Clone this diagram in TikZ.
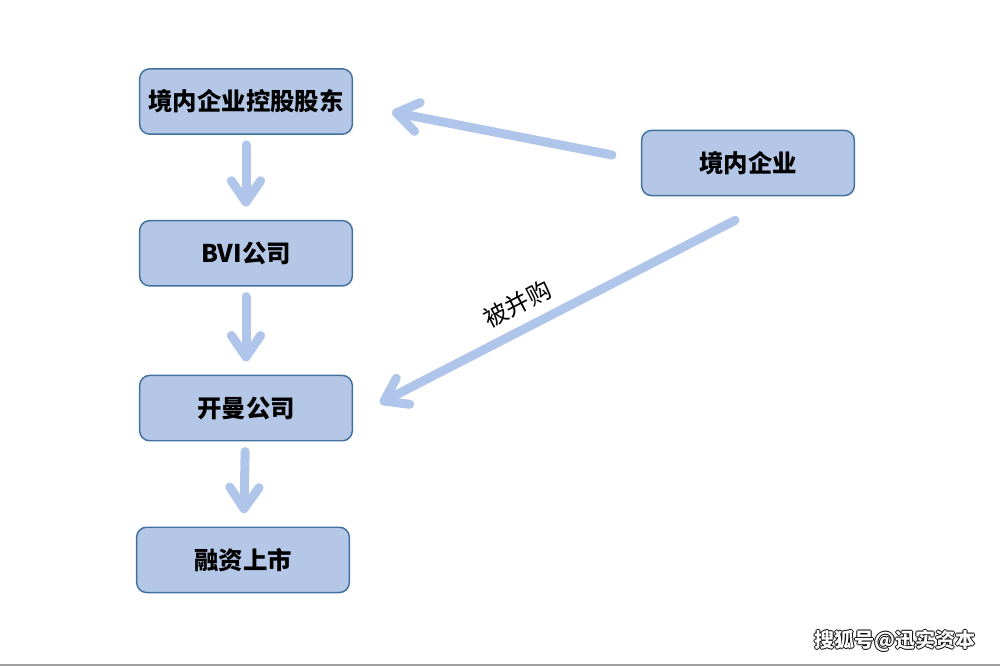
\documentclass[tikz,border=0pt]{standalone}
\usepackage{fontspec}
\setmainfont{Noto Sans CJK SC}
\usetikzlibrary{arrows.meta,positioning,calc}
\definecolor{BoxFill}{HTML}{B4C7E7}
\definecolor{BoxLine}{HTML}{41719C}
\definecolor{Flow}{HTML}{AFC6EA}
\definecolor{Rule}{HTML}{A0A0A0}
\newcommand{\haloed}[1]{\rlap{\hspace{0.7pt}#1}\rlap{\hspace{-0.7pt}#1}\rlap{\raisebox{0.7pt}{#1}}\rlap{\raisebox{-0.7pt}{#1}}\textcolor{white}{#1}}
\tikzset{
 box/.style={draw=BoxLine,line width=1.1pt,fill=BoxFill,rounded corners=7.5pt,align=center,font=\fontsize{18.3}{20}\selectfont\bfseries,minimum width=159.5pt,minimum height=49pt,inner sep=0pt},
 flow/.style={-{Straight Barb[round,length=16pt,width=22pt]},line width=6.75pt,line cap=round,draw=Flow},
 down/.style={flow,shorten <=7.5pt,shorten >=10pt}
}
\begin{document}
\begin{tikzpicture}[x=0.75pt,y=-0.75pt,node distance=63.75pt]
\useasboundingbox (0,0) rectangle (1000,666);
\node[box] (holder) at (246,101.5) {境内企业控股股东};
\node[box,below=of holder] (bvi) {BVI公司};
\node[box,below=66pt of bvi] (cayman) {开曼公司};
\node[box,below=of cayman,xshift=-2.25pt] (ipo) {融资上市};
\node[box] (domestic) at (748,163) {境内企业};
\foreach \x/\y in {holder/bvi,bvi/cayman,cayman/ipo} \draw[down] (\x)--(\y);
\draw[flow] ($(domestic.west)+(-29,-8)$)--($(holder.east)+(39,10.5)$);
\draw[flow] ($(domestic.south)+(-13,24)$)--($(cayman.east)+(27,-5)$)
 node[pos=0.58,sloped,above=4pt,font=\fontsize{18}{20}\selectfont,text=black] (merge) {被并购};
% watermark and bottom rule
\node[font=\fontsize{15}{18}\selectfont\bfseries] (mark) at (895,641) {\haloed{搜狐号@迅实资本}};
\fill[Rule] (0,663.5) rectangle (1000,666);
\end{tikzpicture}
\end{document}
